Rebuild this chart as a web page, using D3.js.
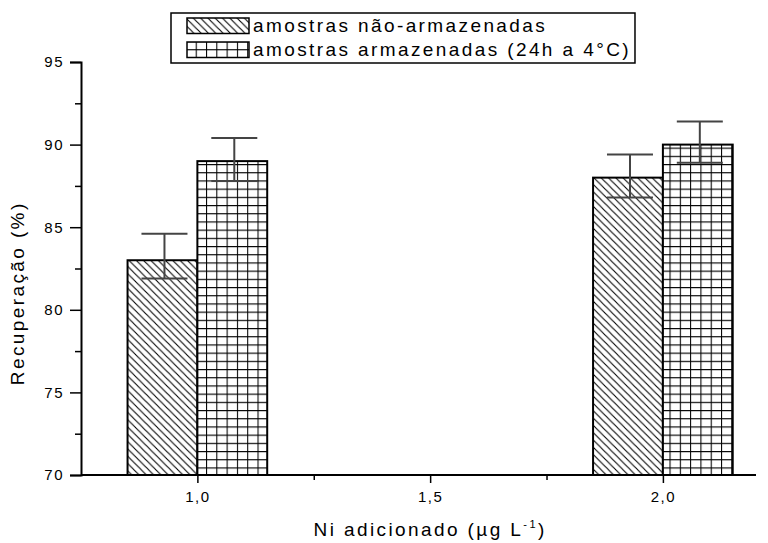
<!DOCTYPE html>
<html>
<head>
<meta charset="utf-8">
<script src="https://cdn.jsdelivr.net/npm/d3@7"></script>
<style>
  html, body { margin: 0; padding: 0; background: #fff; }
  svg { display: block; }
  text { font-family: "Liberation Sans", Arial, sans-serif; fill: #000; }
</style>
</head>
<body>
<svg id="chart" width="768" height="543"></svg>
<script>
// Ni added (µg L-1) and recovery (%) for stored / non-stored samples
const niLevels = [1.0, 2.0];
const seriesNames = ["amostras não-armazenadas", "amostras armazenadas (24h a 4°C)"];
const recNaoArmazenadas = [83, 88];
const recArmazenadas = [89, 90];
const errUpNao = [1.6, 1.4];
const errDownNao = [1.1, 1.2];
const errUpArm = [1.4, 1.4];
const errDownArm = [1.2, 1.1];
const yTicks = [70, 75, 80, 85, 90, 95];
const xTicks = [1.0, 1.5, 2.0];
const xTickLabels = ["1,0", "1,5", "2,0"];

const svg = d3.select("#chart");
const barW = 0.15;
const titleFont = { size: "19px", spacing: "2.4px" };

const x = d3.scaleLinear().domain([0.75, 2.2]).range([81, 756]);
const y = d3.scaleLinear().domain([70, 95]).range([475, 62]);

// fill patterns: diagonal hatch and square grid
const defs = svg.append("defs");
const hatch = defs.append("pattern")
  .attr("id", "hatch").attr("patternUnits", "userSpaceOnUse")
  .attr("width", 7.3).attr("height", 7.3);
hatch.append("rect").attr("width", 7.3).attr("height", 7.3).attr("fill", "#fff");
hatch.append("path")
  .attr("d", "M-1,-1 L8.3,8.3 M-1,6.3 L1,8.3 M6.3,-1 L8.3,1")
  .attr("stroke", "#000").attr("stroke-width", 1.1);

const grid = defs.append("pattern")
  .attr("id", "grid").attr("patternUnits", "userSpaceOnUse")
  .attr("width", 10.3).attr("height", 8.2);
grid.append("rect").attr("width", 10.3).attr("height", 8.2).attr("fill", "#fff");
grid.append("path")
  .attr("d", "M0.5,0 V8.2 M0,0.5 H10.3")
  .attr("stroke", "#000").attr("stroke-width", 1.1);

const series = [
  { name: seriesNames[0], values: recNaoArmazenadas, up: errUpNao, down: errDownNao, fill: "url(#hatch)", off: -barW },
  { name: seriesNames[1], values: recArmazenadas, up: errUpArm, down: errDownArm, fill: "url(#grid)", off: 0 }
];

// bars
series.forEach(s => {
  svg.append("g").selectAll("rect")
    .data(niLevels.map((lv, i) => ({ lv, v: s.values[i] })))
    .join("rect")
    .attr("x", d => x(d.lv + s.off))
    .attr("width", d => x(d.lv + s.off + barW) - x(d.lv + s.off))
    .attr("y", d => y(d.v))
    .attr("height", d => y(70) - y(d.v))
    .attr("fill", s.fill)
    .attr("stroke", "#000").attr("stroke-width", 2);
});

// error bars
series.forEach(s => {
  const g = svg.append("g").attr("stroke", "#444").attr("stroke-width", 2).attr("fill", "none");
  niLevels.forEach((lv, i) => {
    const cx = (x(lv + s.off) + x(lv + s.off + barW)) / 2 + 2;
    const yt = y(s.values[i] + s.up[i]);
    const yb = y(s.values[i] - s.down[i]);
    g.append("line").attr("x1", cx).attr("x2", cx).attr("y1", yt).attr("y2", yb);
    g.append("line").attr("x1", cx - 23).attr("x2", cx + 23).attr("y1", yt).attr("y2", yt);
    g.append("line").attr("x1", cx - 23).attr("x2", cx + 23).attr("y1", yb).attr("y2", yb);
  });
});

// y axis
const yAxis = d3.axisLeft(y).tickValues(yTicks).tickSize(11).tickPadding(6).tickFormat(d3.format("d"));
const gy = svg.append("g").attr("transform", `translate(${x(0.75)},0)`).call(yAxis);
gy.select(".domain").attr("stroke-width", 2);
gy.selectAll(".tick line").attr("stroke-width", 1.5);
gy.selectAll(".tick text").style("font-size", "15px").style("letter-spacing", "1.5px");
const yMinor = d3.axisLeft(y).tickValues([72.5, 77.5, 82.5, 87.5, 92.5]).tickSize(6).tickFormat("");
const gym = svg.append("g").attr("transform", `translate(${x(0.75)},0)`).call(yMinor);
gym.select(".domain").remove();
gym.selectAll(".tick line").attr("stroke-width", 1.5);

// x axis
const xAxis = d3.axisBottom(x).tickValues(xTicks).tickSize(8).tickPadding(8)
  .tickFormat((d, i) => xTickLabels[i]);
const gx = svg.append("g").attr("transform", `translate(0,${y(70)})`).call(xAxis);
gx.select(".domain").attr("stroke-width", 2).attr("d", `M${x(0.75)},0H${x(2.2)}`);
gx.selectAll(".tick line").attr("stroke-width", 1.5);
gx.selectAll(".tick text").style("font-size", "15px").style("letter-spacing", "1.5px");
const xMinor = d3.axisBottom(x).tickValues([1.25, 1.75]).tickSize(5).tickFormat("");
const gxm = svg.append("g").attr("transform", `translate(0,${y(70)})`).call(xMinor);
gxm.select(".domain").remove();
gxm.selectAll(".tick line").attr("stroke-width", 1.5);

// axis titles
svg.append("text")
  .attr("transform", `translate(24,${y(81)}) rotate(-90)`)
  .attr("text-anchor", "middle")
  .style("font-size", titleFont.size).style("letter-spacing", titleFont.spacing)
  .text("Recuperação (%)");

const xt = svg.append("text")
  .attr("x", x(1.5)).attr("y", 536)
  .attr("text-anchor", "middle")
  .style("font-size", titleFont.size).style("letter-spacing", titleFont.spacing);
xt.append("tspan").text("Ni adicionado (µg L");
xt.append("tspan").attr("dy", -8).style("font-size", "11px").text("-1");
xt.append("tspan").attr("dy", 8).text(")");

// legend: box sized to its longest entry
const lg = svg.append("g");
const box = lg.append("rect").attr("x", 171).attr("y", 13).attr("height", 50)
  .attr("fill", "#fff").attr("stroke", "#000").attr("stroke-width", 1.5);
let maxEnd = 0;
series.forEach((s, i) => {
  const ry = 18 + i * 24;
  lg.append("rect").attr("x", 187).attr("y", ry).attr("width", 62).attr("height", 15.5)
    .attr("fill", s.fill).attr("stroke", "#000").attr("stroke-width", 1.5);
  const t = lg.append("text").attr("x", 253).attr("y", ry + 14)
    .style("font-size", titleFont.size).style("letter-spacing", titleFont.spacing)
    .text(s.name);
  maxEnd = Math.max(maxEnd, 253 + t.node().getComputedTextLength());
});
box.attr("width", maxEnd + 4 - 171);
</script>
</body>
</html>
